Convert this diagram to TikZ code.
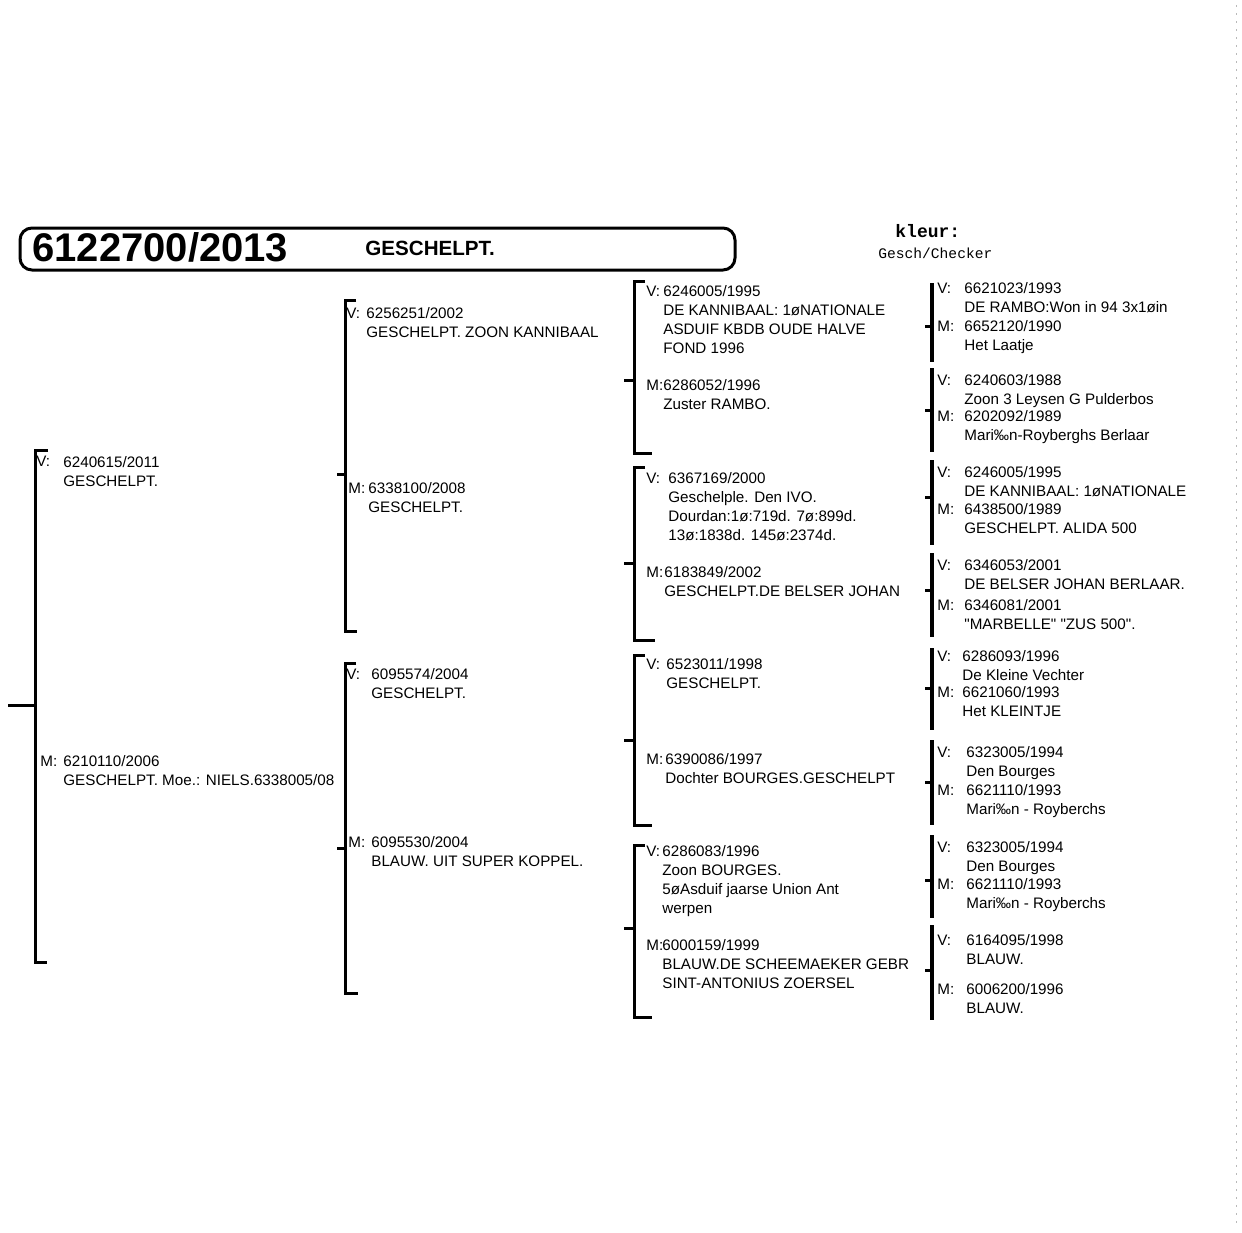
\documentclass[tikz,border=0pt]{standalone}
\usepackage{fontspec}
\setmainfont{Liberation Sans}[Ligatures=TeXOff]
\newfontfamily\monofam{Liberation Mono}
\usetikzlibrary{calc}
\newcommand\fs{\fontsize{7.6}{9.5}\selectfont}
% bracket: name, x, top, bottom, stub y, stub start x, top tick end x, bottom tick end x
\newcommand\pedbr[8]{%
  \coordinate (#1-t) at (#2,#3);
  \coordinate (#1-b) at (#2,#4);
  \coordinate (#1-m) at (#2,#5);
  \coordinate (#1-s) at (#6,#5);
  \coordinate (#1-tt) at (#7,#3);
  \coordinate (#1-bt) at (#8,#4);
  \draw[brline] (#1-tt) -- (#1-t) -- (#1-b) -- (#1-bt);
  \draw[brline] (#1-s) -- (#1-m);
}
\newcommand\pedbrf[5]{%
  \coordinate (#1-t) at (#2,#3);
  \coordinate (#1-b) at (#2,#4);
  \coordinate (#1-m) at (#2,#5);
  \coordinate (#1-s) at (925,#5);
  \draw[brthick] (#1-t) -- (#1-b);
  \draw[brline] (#1-s) -- (#1-m);
}
\tikzset{
  brline/.style={line width=1.5pt, line cap=butt},
  brthick/.style={line width=2.1pt},
  lab/.style={anchor=north west, inner sep=0pt, yshift=4pt, font=\fs},
  ent/.style={anchor=north west, inner sep=0pt, yshift=4pt, align=left, font=\fs},
}
\begin{document}
\begin{tikzpicture}[x=0.5pt,y=-0.5pt]
\useasboundingbox (0,0) rectangle (1242,1232);
\fill[white] (0,0) rectangle (1242,1232);

% header
\draw[line width=1.5pt, rounded corners=6pt] (20,228) rectangle (735,270);
\node[anchor=west, inner sep=0pt, font=\fontsize{20}{22}\selectfont\bfseries] (ring) at (32,247) {6122700/2013};
\node[anchor=west, inner sep=0pt, font=\fontsize{10.3}{12}\selectfont\bfseries] (hcol) at (365,248) {GESCHELPT.};
\node[anchor=west, inner sep=0pt, font=\fontsize{9}{10}\selectfont\monofam\bfseries] (kleur) at (895,231) {kleur:};
\node[anchor=west, inner sep=0pt, font=\fontsize{7.3}{9}\selectfont\monofam] (kval) at (878,253) {Gesch/Checker};

% scan edge
\coordinate (edgeT) at (1236,5);
\coordinate (edgeB) at (1236,1225);
\draw[gray!55, line width=0.5pt, dash pattern=on 1pt off 3pt] (edgeT) -- (edgeB);

% column 1
\pedbr{b1}{35}{450}{962}{705}{8}{48}{47}
\node[lab] (l1v) at (36,461) {\strut V:};
\node[ent] (e1v) at (63,462) {\strut 6240615/2011\\GESCHELPT.};
\node[lab] (l1m) at (40,761) {\strut M:};
\node[ent] (e1m) at (63,761) {\strut 6210110/2006\\GESCHELPT. Moe.: NIELS.6338005/08};

% column 2
\pedbr{b2a}{345}{300}{631}{474}{337}{356}{357}
\node[lab] (l2av) at (346,313) {\strut V:};
\node[ent] (e2av) at (366,313) {\strut 6256251/2002\\GESCHELPT. ZOON KANNIBAAL};
\node[lab] (l2am) at (348,488) {\strut M:};
\node[ent] (e2am) at (368,488) {\strut 6338100/2008\\GESCHELPT.};

\pedbr{b2b}{345}{663}{993}{848}{337}{356}{358}
\node[lab] (l2bv) at (346,674) {\strut V:};
\node[ent] (e2bv) at (371,674) {\strut 6095574/2004\\GESCHELPT.};
\node[lab] (l2bm) at (348,842) {\strut M:};
\node[ent] (e2bm) at (371,842) {\strut 6095530/2004\\BLAUW. UIT SUPER KOPPEL.};

% column 3
\pedbr{b3a}{634}{281}{453}{380}{624}{645}{652}
\node[lab] (l3av) at (646,291) {\strut V:};
\node[ent] (e3av) at (663,291) {\strut 6246005/1995\\DE KANNIBAAL: 1øNATIONALE\\ASDUIF KBDB OUDE HALVE\\FOND 1996};
\node[lab] (l3am) at (646,385) {\strut M:};
\node[ent] (e3am) at (663,385) {\strut 6286052/1996\\Zuster RAMBO.};

\pedbr{b3b}{634}{467}{640}{563}{624}{645}{655}
\node[lab] (l3bv) at (646,478) {\strut V:};
\node[ent] (e3bv) at (668,478) {\strut 6367169/2000\\Geschelple. Den IVO.\\Dourdan:1ø:719d. 7ø:899d.\\13ø:1838d. 145ø:2374d.};
\node[lab] (l3bm) at (646,572) {\strut M:};
\node[ent] (e3bm) at (664,572) {\strut 6183849/2002\\GESCHELPT.DE BELSER JOHAN};

\pedbr{b3c}{634}{655}{825}{740}{624}{645}{652}
\node[lab] (l3cv) at (646,664) {\strut V:};
\node[ent] (e3cv) at (666,664) {\strut 6523011/1998\\GESCHELPT.};
\node[lab] (l3cm) at (646,759) {\strut M:};
\node[ent] (e3cm) at (665,759) {\strut 6390086/1997\\Dochter BOURGES.GESCHELPT};

\pedbr{b3d}{634}{845}{1017}{928}{624}{645}{652}
\node[lab] (l3dv) at (646,851) {\strut V:};
\node[ent] (e3dv) at (662,851) {\strut 6286083/1996\\Zoon BOURGES.\\5øAsduif jaarse Union Ant\\werpen};
\node[lab] (l3dm) at (646,945) {\strut M:};
\node[ent] (e3dm) at (662,945) {\strut 6000159/1999\\BLAUW.DE SCHEEMAEKER GEBR\\SINT-ANTONIUS ZOERSEL};

% column 4
\pedbrf{c1}{932}{283}{362}{326}
\node[lab] (l41v) at (937,288) {\strut V:};
\node[ent] (e41v) at (964,288) {\strut 6621023/1993\\DE RAMBO:Won in 94 3x1øin};
\node[lab] (l41m) at (937,326) {\strut M:};
\node[ent] (e41m) at (964,326) {\strut 6652120/1990\\Het Laatje};

\pedbrf{c2}{932}{368}{452}{410}
\node[lab] (l42v) at (937,380) {\strut V:};
\node[ent] (e42v) at (964,380) {\strut 6240603/1988\\Zoon 3 Leysen G Pulderbos};
\node[lab] (l42m) at (937,416) {\strut M:};
\node[ent] (e42m) at (964,416) {\strut 6202092/1989\\Mari‰n-Royberghs Berlaar};

\pedbrf{c3}{932}{460}{545}{497}
\node[lab] (l43v) at (937,472) {\strut V:};
\node[ent] (e43v) at (964,472) {\strut 6246005/1995\\DE KANNIBAAL: 1øNATIONALE};
\node[lab] (l43m) at (937,509) {\strut M:};
\node[ent] (e43m) at (964,509) {\strut 6438500/1989\\GESCHELPT. ALIDA 500};

\pedbrf{c4}{932}{553}{637}{590}
\node[lab] (l44v) at (937,565) {\strut V:};
\node[ent] (e44v) at (964,565) {\strut 6346053/2001\\DE BELSER JOHAN BERLAAR.};
\node[lab] (l44m) at (937,605) {\strut M:};
\node[ent] (e44m) at (964,605) {\strut 6346081/2001\\"MARBELLE" "ZUS 500".};

\pedbrf{c5}{932}{648}{730}{688}
\node[lab] (l45v) at (937,656) {\strut V:};
\node[ent] (e45v) at (962,656) {\strut 6286093/1996\\De Kleine Vechter};
\node[lab] (l45m) at (937,692) {\strut M:};
\node[ent] (e45m) at (962,692) {\strut 6621060/1993\\Het KLEINTJE};

\pedbrf{c6}{932}{740}{825}{782}
\node[lab] (l46v) at (937,752) {\strut V:};
\node[ent] (e46v) at (966,752) {\strut 6323005/1994\\Den Bourges};
\node[lab] (l46m) at (937,790) {\strut M:};
\node[ent] (e46m) at (966,790) {\strut 6621110/1993\\Mari‰n - Royberchs};

\pedbrf{c7}{932}{835}{918}{880}
\node[lab] (l47v) at (937,847) {\strut V:};
\node[ent] (e47v) at (966,847) {\strut 6323005/1994\\Den Bourges};
\node[lab] (l47m) at (937,884) {\strut M:};
\node[ent] (e47m) at (966,884) {\strut 6621110/1993\\Mari‰n - Royberchs};

\pedbrf{c8}{932}{925}{1020}{970}
\node[lab] (l48v) at (937,940) {\strut V:};
\node[ent] (e48v) at (966,940) {\strut 6164095/1998\\BLAUW.};
\node[lab] (l48m) at (937,989) {\strut M:};
\node[ent] (e48m) at (966,989) {\strut 6006200/1996\\BLAUW.};
\end{tikzpicture}
\end{document}
